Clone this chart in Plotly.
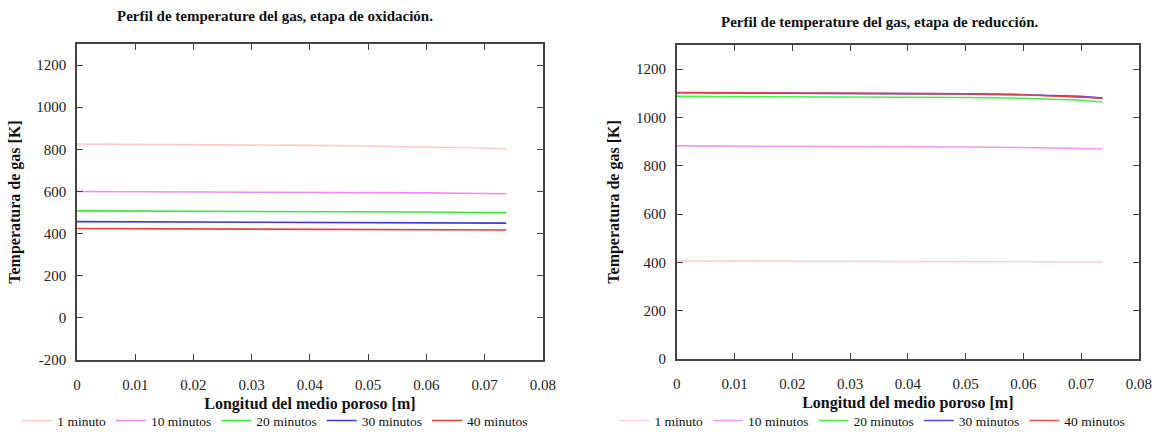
import plotly.graph_objects as go

longitud = [0, 0.01, 0.02, 0.03, 0.04, 0.05, 0.06, 0.07, 0.0737]
series_names = ["1 minuto", "10 minutos", "20 minutos", "30 minutos", "40 minutos"]
colors = ["#ffcaca", "#f08cf0", "#33ee33", "#3838f0", "#f03a3a"]

oxid_1 = [825, 824, 823, 821, 819, 816, 812, 807, 804]
oxid_10 = [600, 599.5, 599, 598, 597, 595.5, 593.5, 590.5, 589]
oxid_20 = [508, 507.5, 507, 506, 505, 504, 502.5, 500.5, 499.5]
oxid_30 = [457, 456.5, 456, 455.5, 455, 454, 453, 451, 450]
oxid_40 = [424, 423.5, 423, 422.5, 422, 421, 420, 418.5, 417.5]

red_1 = [406, 405.5, 405, 404.5, 404, 403.5, 403, 402, 401.5]
red_10 = [882, 881.5, 881, 880, 879, 877.5, 875.5, 871.5, 869]
red_20 = [1087, 1086.5, 1086, 1085, 1084, 1082.5, 1079, 1071, 1064]
red_30 = [1102, 1101.5, 1101, 1100, 1099, 1097.5, 1094, 1087, 1080]
red_40 = [1103, 1102.5, 1102, 1101, 1099.5, 1097.5, 1094, 1086, 1080]

x_ticks = [0, 0.01, 0.02, 0.03, 0.04, 0.05, 0.06, 0.07, 0.08]
x_ticklabels = ["0", "0.01", "0.02", "0.03", "0.04", "0.05", "0.06", "0.07", "0.08"]
y_ticks_oxid = [-200, 0, 200, 400, 600, 800, 1000, 1200]
y_ticklabels_oxid = ["-200", "0", "200", "400", "600", "800", "1000", "1200"]
y_ticks_red = [0, 200, 400, 600, 800, 1000, 1200]
y_ticklabels_red = ["0", "200", "400", "600", "800", "1000", "1200"]

FONT = "Liberation Serif, Times New Roman, serif"
fig = go.Figure()

oxid = [oxid_1, oxid_10, oxid_20, oxid_30, oxid_40]
red = [red_1, red_10, red_20, red_30, red_40]

for name, c, y in zip(series_names, colors, oxid):
    fig.add_trace(go.Scatter(x=longitud, y=y, mode="lines", name=name,
                             line=dict(color=c, width=1.6), xaxis="x", yaxis="y",
                             legend="legend"))
for name, c, y in zip(series_names, colors, red):
    fig.add_trace(go.Scatter(x=longitud, y=y, mode="lines", name=name,
                             line=dict(color=c, width=1.6), xaxis="x2", yaxis="y2",
                             legend="legend2", opacity=0.9))

axis_common = dict(showline=True, linecolor="#444", linewidth=1.5, mirror="ticks",
                   ticks="inside", ticklen=6, tickcolor="#444", tickwidth=1.2,
                   showgrid=False, zeroline=False, automargin=False,
                   tickfont=dict(family=FONT, size=15, color="#222"))

xtitle = dict(text="<b>Longitud del medio poroso [m]</b>",
              font=dict(family=FONT, size=16), standoff=6)
ytitle = dict(text="<b>Temperatura de gas [K]</b>",
              font=dict(family=FONT, size=16), standoff=12)

legend_common = dict(orientation="h", xanchor="left", y=0.026, yanchor="middle",
                     font=dict(family=FONT, size=13.5), itemwidth=30,
                     bgcolor="rgba(0,0,0,0)", tracegroupgap=0)

fig.update_layout(
    width=1155, height=432,
    paper_bgcolor="white", plot_bgcolor="white",
    margin=dict(l=0, r=0, t=0, b=0, autoexpand=False),
    font=dict(family=FONT, color="#111"),
    xaxis=dict(domain=[0.0667, 0.470], range=[0, 0.08], tickvals=x_ticks,
               ticktext=x_ticklabels, anchor="y", title=xtitle,
               ticklabelstandoff=10, **axis_common),
    yaxis=dict(domain=[0.1667, 0.898], range=[-200, 1300], tickvals=y_ticks_oxid,
               ticktext=y_ticklabels_oxid, anchor="x", title=ytitle,
               ticklabelstandoff=6, **axis_common),
    xaxis2=dict(domain=[0.586, 0.986], range=[0, 0.08], tickvals=x_ticks,
                ticktext=x_ticklabels, anchor="y2", title=xtitle,
                ticklabelstandoff=10, **axis_common),
    yaxis2=dict(domain=[0.1690, 0.896], range=[0, 1300], tickvals=y_ticks_red,
                ticktext=y_ticklabels_red, anchor="x2", title=ytitle,
                ticklabelstandoff=6, **axis_common),
    legend=dict(x=0.015, **legend_common),
    legend2=dict(x=0.532, **legend_common),
    showlegend=True,
    annotations=[
        dict(text="<b>Perfil de temperature del gas, etapa de oxidación.</b>",
             x=275 / 1155, y=1 - 16 / 432, xref="paper", yref="paper",
             showarrow=False, font=dict(family=FONT, size=15), xanchor="center",
             yanchor="middle"),
        dict(text="<b>Perfil de temperature del gas, etapa de reducción.</b>",
             x=880 / 1155, y=1 - 22 / 432, xref="paper", yref="paper",
             showarrow=False, font=dict(family=FONT, size=15), xanchor="center",
             yanchor="middle"),
    ],
)

fig.write_html("out.html", config={"displayModeBar": False},
               post_script="document.body.style.margin='0';document.body.style.padding='0';")
